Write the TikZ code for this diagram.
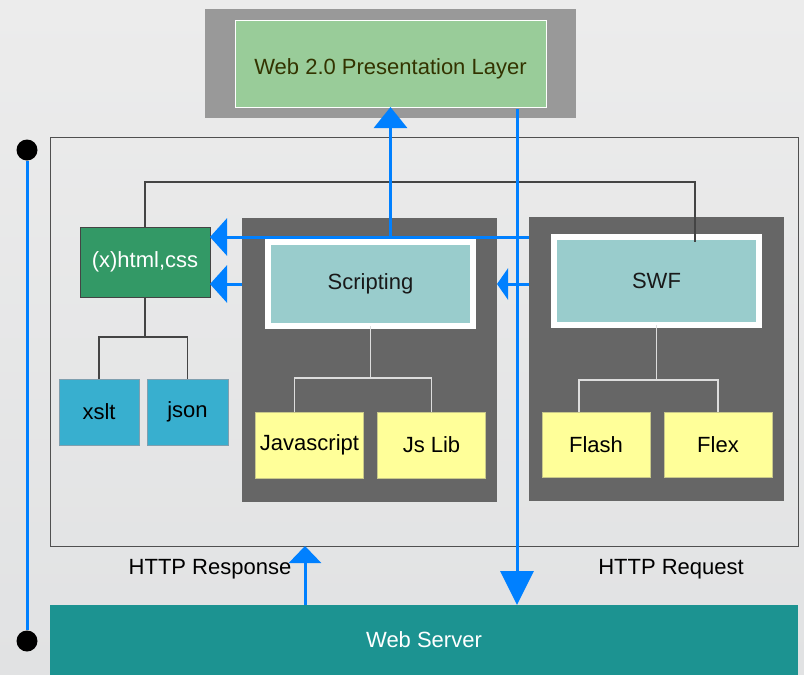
\documentclass[tikz,border=0pt]{standalone}
\usepackage{fontspec}
\setmainfont{Liberation Sans}
\usetikzlibrary{positioning,arrows.meta,calc}
\definecolor{bgtop}{HTML}{ECECEC}
\definecolor{bgbot}{HTML}{E1E2E3}
\definecolor{framegray}{HTML}{999999}
\definecolor{presgreen}{HTML}{99CC99}
\definecolor{prestext}{HTML}{333300}
\definecolor{outline}{HTML}{505050}
\definecolor{xgreen}{HTML}{339966}
\definecolor{darkedge}{HTML}{444444}
\definecolor{cyanbox}{HTML}{38AFCF}
\definecolor{cyanedge}{HTML}{7F9FAF}
\definecolor{panelgray}{HTML}{666666}
\definecolor{headteal}{HTML}{99CCCC}
\definecolor{leafyellow}{HTML}{FFFF99}
\definecolor{leafedge}{HTML}{C8C88A}
\definecolor{treedark}{HTML}{444444}
\definecolor{treelight}{HTML}{DDDDDD}
\definecolor{flowblue}{HTML}{0080FF}
\definecolor{serverteal}{HTML}{1C9391}

\begin{document}
\begin{tikzpicture}[x=1pt,y=-1pt,font=\fontsize{22}{26}\selectfont]

\tikzstyle{box} = [rectangle, inner sep=0pt, outer sep=0pt, align=center]
\tikzstyle{panel} = [box, fill=panelgray, minimum width=255pt, minimum height=284pt]
\tikzstyle{head} = [box, fill=headteal, draw=white, line width=6pt, text=black!90, minimum width=205pt]
\tikzstyle{leaf} = [box, fill=leafyellow, draw=leafedge, line width=0.8pt, minimum width=108pt, minimum height=66pt]
\tikzstyle{format} = [box, fill=cyanbox, draw=cyanedge, line width=0.8pt, minimum height=66pt]
\tikzstyle{tree} = [draw=treedark, line width=1.5pt]
\tikzstyle{treelt} = [draw=treelight, line width=1.5pt]
\tikzstyle{flow} = [draw=flowblue, line width=3pt]
\tikzstyle{dot} = [circle, fill=black, inner sep=0pt, minimum size=21pt]

% background
\fill[top color=bgtop, bottom color=bgbot] (0,0) rectangle (804,675);
\useasboundingbox (0,0) rectangle (804,675);

% presentation layer
\node [box, fill=framegray, minimum width=371pt, minimum height=109pt] (presframe) at (390.5,63.5) {};
\node [box, fill=presgreen, draw=white, line width=1pt, minimum width=311pt, minimum height=87pt] (pres) at (390.5,63.5) {};
\node [text=prestext] (prestitle) at ([yshift=-5pt]pres.center) {Web 2.0 Presentation Layer};

% client area
\node [box, draw=outline, line width=1pt, minimum width=748pt, minimum height=409pt] (client) at (424,341.5) {};

% markup and formats
\node [box, fill=xgreen, draw=darkedge, line width=0.8pt, minimum width=130pt, minimum height=70pt, text=white] (xhtml) at (145,262) {(x)html,css};
\node [format, minimum width=80pt] (xslt) at (99,412) {xslt};
\node [format, minimum width=81pt, right=8pt of xslt] (json) {json};

% scripting
\node [panel] (scriptbg) at (369.5,360) {};
\node [head, minimum height=84pt] (scripting) at (370.5,284) {Scripting};
\node [leaf] (js) at (309.5,445) {Javascript};
\node [leaf, right=14pt of js] (jslib) {Js Lib};

% swf
\node [panel] (swfbg) at (656.5,359) {};
\node [head, minimum height=88pt] (swf) at (656.5,281) {SWF};
\node [leaf, minimum height=65pt] (flash) at (596,444.5) {Flash};
\node [leaf, minimum height=65pt, right=14pt of flash] (flex) {Flex};

% web server
\node [box, fill=serverteal, minimum width=748pt, minimum height=70pt, text=white] (server) at (424,640) {Web Server};
\node (resplabel) at (210,569) {HTTP Response};
\node (reqlabel) at (671,569) {HTTP Request};

% trees
\coordinate (bar) at (695,182);
\draw [tree] (xhtml.north) |- (bar) -- ([yshift=-5pt]bar |- swf.north);
\draw [tree] (xhtml.south) -- ++(0,40) -| (xslt.north);
\draw [tree] (xhtml.south) ++(0,40) -| (json.north);
\draw [treelt] (scripting.south) -- ++(0,52) coordinate (sfork) -| ([xshift=-15pt]js.north);
\draw [treelt] (sfork) -| (jslib.north);
\draw [treelt] (swf.south) -- ++(0,55) coordinate (wfork) -| ([xshift=-17pt]flash.north);
\draw [treelt] (wfork) -| (flex.north);

% request and response
\coordinate (req) at (517,109);
\coordinate (resp) at (305,0);
\draw [flow, -{Triangle[length=34pt,width=33pt]}] (req) -- (req |- server.north);
\draw [flow, -{Triangle[length=17pt,width=32pt]}] (resp |- server.north) -- (resp |- client.south);

% updates
\coordinate (hl) at (0,237);
\draw [flow, -{Triangle[length=17pt,width=37pt]}] (swfbg.west |- hl) -- (xhtml.east |- hl);
\draw [flow, -{Triangle[length=21pt,width=33pt]}] (pres.south |- hl) -- (pres.south);
\draw [flow, -{Triangle[length=17pt,width=37pt]}] (scriptbg.west |- scripting) -- (xhtml.east |- scripting);
\draw [flow, -{Triangle[length=11pt,width=31pt]}] (swfbg.west |- scripting) -- (scriptbg.east |- scripting);

% timeline
\node [dot] (dtop) at (27,150) {};
\node [dot] (dbot) at (27,641) {};
\draw [flow] (dtop) -- (dbot);

\end{tikzpicture}
\end{document}
